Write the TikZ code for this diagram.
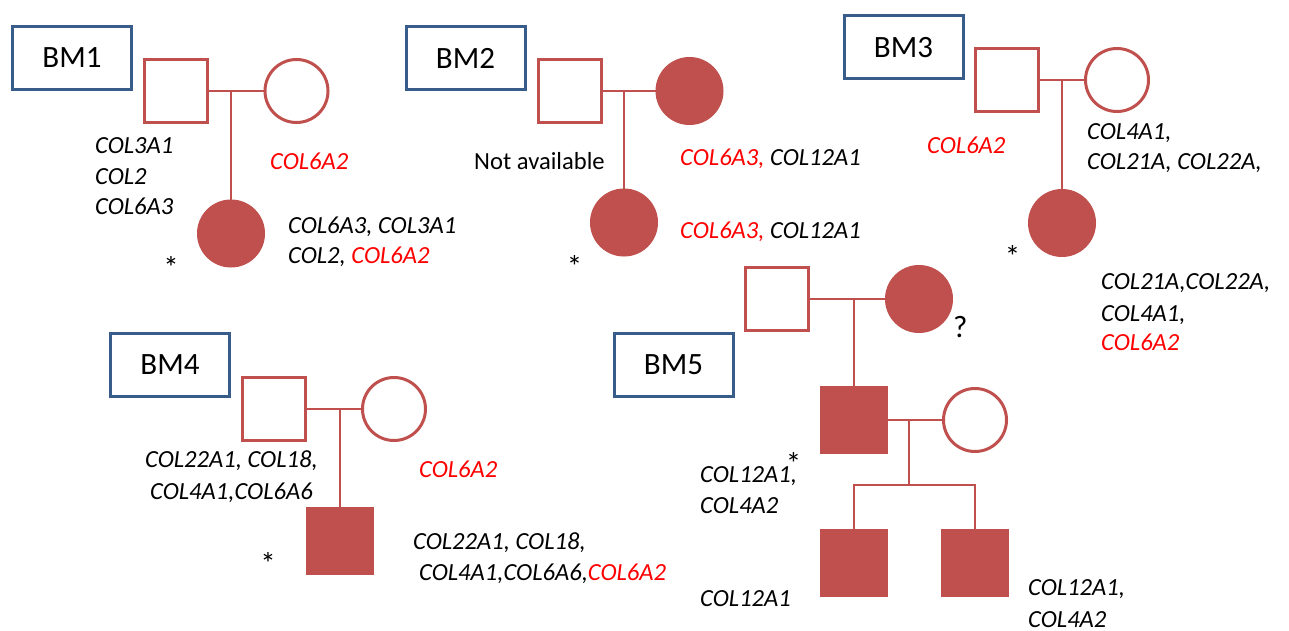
\documentclass[tikz,border=0pt]{standalone}
\usepackage{fontspec}
\setmainfont{Carlito}
\definecolor{ped}{HTML}{C0504D}
\definecolor{boxblue}{HTML}{385D8A}
\definecolor{genered}{HTML}{FF0000}
\newcommand{\rg}[1]{{\color{genered}#1}}
\tikzset{
  male/.style={rectangle, draw=ped, line width=3pt, minimum size=63pt, inner sep=0pt},
  female/.style={circle, draw=ped, line width=3pt, minimum size=63pt, inner sep=0pt},
  affmale/.style={rectangle, draw=ped, fill=ped, line width=1pt, minimum size=67pt, inner sep=0pt},
  afffemale/.style={circle, draw=ped, fill=ped, line width=1pt, minimum size=67pt, inner sep=0pt},
  famlabel/.style={rectangle, draw=boxblue, line width=3pt, minimum width=119pt, minimum height=63pt, inner sep=0pt, font=\fontsize{31}{36}\selectfont},
  gene/.style={anchor=base west, inner sep=0pt, font=\fontsize{24.6}{29}\selectfont\itshape},
  plain/.style={anchor=base west, inner sep=0pt, font=\fontsize{24.6}{29}\selectfont},
  mark symbol/.style={anchor=base, inner sep=0pt, font=\fontsize{31}{36}\selectfont},
  link/.style={draw=ped, line width=2pt},
}
\begin{document}
\begin{tikzpicture}[x=1pt, y=-1pt]
\fill[white] (0,0) rectangle (1289,631);
\useasboundingbox (0,0) rectangle (1289,631);

% ---------- BM1 ----------
\node[famlabel] (bm1) at (72,58) {BM1};
\node[male] (f1) at (176,91) {};
\node[female] (m1) at (296.5,91) {};
\coordinate (j1) at (231,91);
\node[afffemale] (c1) at (231,233.5) {};
\draw[link] (f1) -- (m1);
\draw[link] (j1) -- (c1);
\node[gene] (t1a) at (95,154) {COL3A1};
\node[gene] (t1b) at (95,184) {COL2};
\node[gene] (t1c) at (95,214) {COL6A3};
\node[gene] (t1d) at (270,170) {\rg{COL6A2}};
\node[gene] (t1e) at (288,233) {COL6A3, COL3A1};
\node[gene] (t1f) at (288,263) {COL2, \rg{COL6A2}};
\node[mark symbol] (p1) at (171,278) {*};

% ---------- BM2 ----------
\node[famlabel] (bm2) at (465.5,58) {BM2};
\node[male] (f2) at (569.5,91) {};
\node[afffemale] (m2) at (689.5,91) {};
\coordinate (j2) at (624,91);
\node[afffemale] (c2) at (624,222.5) {};
\draw[link] (f2) -- (m2);
\draw[link] (j2) -- (c2);
\node[plain] (t2a) at (474,170) {Not available};
\node[gene] (t2b) at (680,165.5) {\rg{COL6A3,} COL12A1};
\node[gene] (t2c) at (680,238) {\rg{COL6A3,} COL12A1};
\node[mark symbol] (p2) at (574.5,277.5) {*};

% ---------- BM3 ----------
\node[famlabel] (bm3) at (903.5,47.5) {BM3};
\node[male] (f3) at (1007,80) {};
\node[female] (m3) at (1117,80) {};
\coordinate (j3) at (1062,80);
\node[afffemale] (c3) at (1062,223) {};
\draw[link] (f3) -- (m3);
\draw[link] (j3) -- (c3);
\node[gene] (t3a) at (927,154) {\rg{COL6A2}};
\node[gene] (t3b) at (1087,140) {COL4A1,};
\node[gene] (t3c) at (1087,170) {COL21A, COL22A,};
\node[gene] (t3d) at (1101,289) {COL21A,COL22A,};
\node[gene] (t3e) at (1101,321) {COL4A1,};
\node[gene] (t3f) at (1101,350) {\rg{COL6A2}};
\node[mark symbol] (p3) at (1012.5,267.5) {*};

% ---------- BM4 ----------
\node[famlabel] (bm4) at (170,365) {BM4};
\node[male] (f4) at (274,409) {};
\node[female] (m4) at (394,409) {};
\coordinate (j4) at (340,409);
\node[affmale] (c4) at (340,540.5) {};
\draw[link] (f4) -- (m4);
\draw[link] (j4) -- (c4);
\node[gene] (t4a) at (145,467.5) {COL22A1, COL18,};
\node[gene] (t4b) at (150,499) {COL4A1,COL6A6};
\node[gene] (t4c) at (419,477) {\rg{COL6A2}};
\node[gene] (t4d) at (413,549) {COL22A1, COL18,};
\node[gene] (t4e) at (419,580.5) {COL4A1,COL6A6,\rg{COL6A2}};
\node[mark symbol] (p4) at (268,574.5) {*};

% ---------- BM5 ----------
\node[famlabel] (bm5) at (673.5,365) {BM5};
\node[male] (f5) at (777,299) {};
\node[afffemale] (m5) at (919,299) {};
\coordinate (j5) at (854,299);
\node[affmale] (c5) at (854,420) {};
\node[female] (w5) at (975,420) {};
\coordinate (j6) at (909,420);
\coordinate (s0) at (909,485);
\node[affmale] (k1) at (854,562.5) {};
\node[affmale] (k2) at (974.5,562.5) {};
\draw[link] (f5) -- (m5);
\draw[link] (j5) -- (c5);
\draw[link] (c5) -- (w5);
\draw[link] (j6) -- (s0);
\draw[link] (k1.north) -- (k1.north |- s0) -- (k2.north |- s0) -- (k2.north);
\node[mark symbol, anchor=base west] (q5) at (953,337) {?};
\node[gene] (t5a) at (700,482) {COL12A1,};
\node[gene] (t5b) at (700,513) {COL4A2};
\node[gene] (t5c) at (700,606) {COL12A1};
\node[gene] (t5d) at (1028,595) {COL12A1,};
\node[gene] (t5e) at (1028,627) {COL4A2};
\node[mark symbol] (p5) at (793.5,474.5) {*};
\end{tikzpicture}
\end{document}
